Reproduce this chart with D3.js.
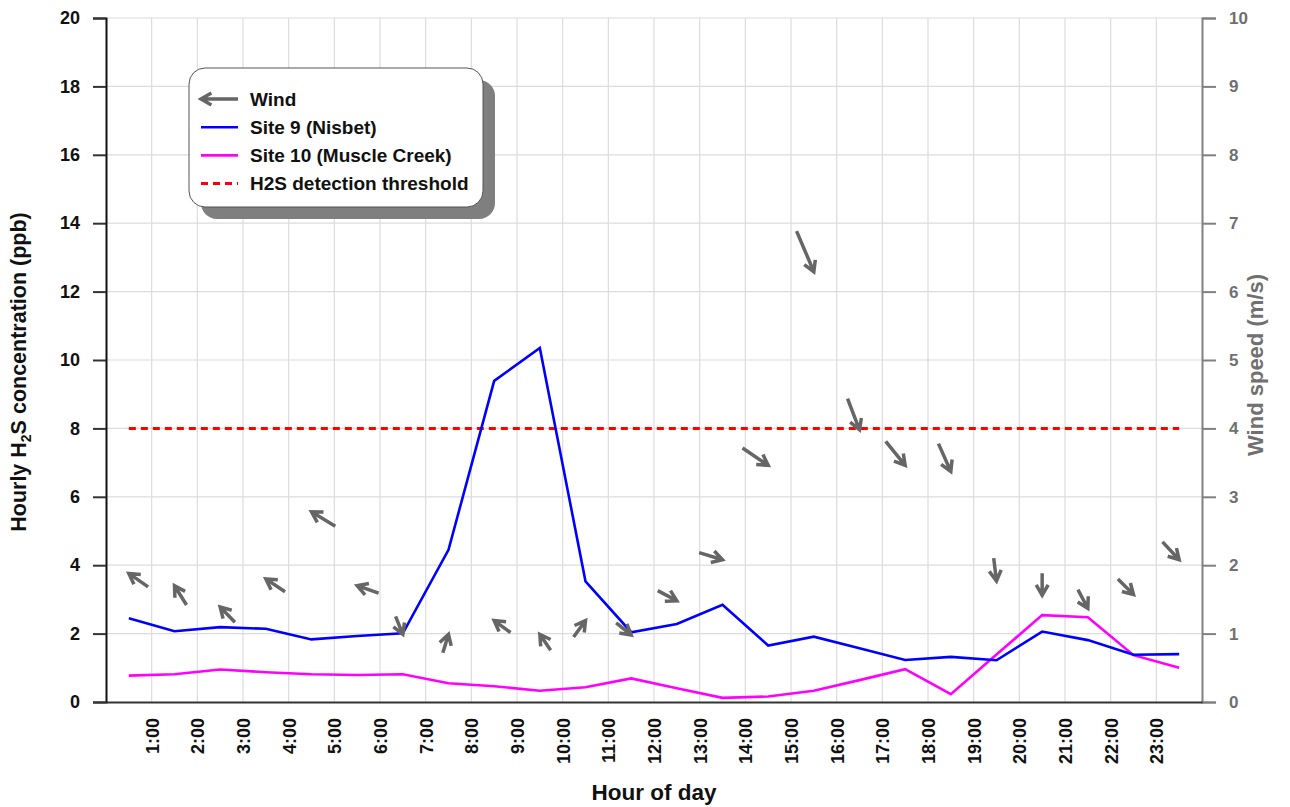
<!DOCTYPE html>
<html>
<head>
<meta charset="utf-8">
<script src="https://cdn.jsdelivr.net/npm/d3@7"></script>
<style>
  html, body { margin: 0; padding: 0; background: #fff; }
  svg { display: block; font-family: "Liberation Sans", Arial, sans-serif; }
</style>
</head>
<body>
<svg id="chart" width="1290" height="807"></svg>
<script>
// Hour of day (mid-hour sample points)
const hours = [0.5,1.5,2.5,3.5,4.5,5.5,6.5,7.5,8.5,9.5,10.5,11.5,12.5,13.5,14.5,15.5,16.5,17.5,18.5,19.5,20.5,21.5,22.5,23.5];
const hourTicks = d3.range(1, 24);
const hourLabels = hourTicks.map(h => h + ":00");

// Hourly H2S concentration (ppb)
const site9 = [2.45,2.07,2.19,2.14,1.83,1.93,2.01,4.45,9.39,10.35,3.53,2.04,2.28,2.84,1.65,1.91,1.57,1.23,1.32,1.22,2.06,1.81,1.38,1.40];
const site10 = [0.77,0.81,0.95,0.87,0.81,0.79,0.81,0.55,0.46,0.33,0.43,0.69,0.40,0.12,0.16,0.33,0.64,0.96,0.23,1.39,2.54,2.48,1.37,1.00];
const threshold = 8;

// Wind speed (m/s) and heading the wind blows toward (degrees clockwise from north)
const windSpeed = [1.88,1.70,1.39,1.80,2.78,1.70,0.99,0.99,1.19,0.99,1.19,0.98,1.48,2.08,3.46,6.29,3.98,3.46,3.37,1.77,1.56,1.37,1.57,2.08];
const windHeading = [305,328,316,304,301,289,158,17,306,326,36,129,118,107,124,157,159,141,156,173,180,152,135,137];

const concTicks = d3.range(0, 21, 2);
const speedTicks = d3.range(0, 11, 1);

const svg = d3.select("#chart");
const m = { left: 106, right: 1202, top: 18, bottom: 702 };

const x = d3.scaleLinear().domain([0, 24]).range([m.left, m.right]);
const y = d3.scaleLinear().domain([0, 20]).range([m.bottom, m.top]);
const yWind = d3.scaleLinear().domain([0, 10]).range([m.bottom, m.top]);
const arrowLen = d3.scaleLinear().domain([0, 10]).range([14.7, 61.6]);

const gridColor = "#dcdcdc";
const windColor = "#666666";
const FONT = "Liberation Sans, Arial, sans-serif";

// Grid
const grid = svg.append("g");
grid.selectAll("line.v").data(hourTicks).join("line")
  .attr("x1", d => x(d)).attr("x2", d => x(d))
  .attr("y1", m.top).attr("y2", m.bottom)
  .attr("stroke", gridColor).attr("stroke-width", 1.2);
grid.selectAll("line.h").data(concTicks.filter(d => d > 0)).join("line")
  .attr("x1", m.left).attr("x2", m.right)
  .attr("y1", d => y(d)).attr("y2", d => y(d))
  .attr("stroke", gridColor).attr("stroke-width", 1.2);

// Left axis
const leftAxis = svg.append("g")
  .attr("transform", `translate(${m.left},0)`)
  .call(d3.axisLeft(y).tickValues(concTicks).tickSize(13).tickPadding(13));
leftAxis.select(".domain").attr("stroke", "#111").attr("stroke-width", 2);
leftAxis.selectAll(".tick line").attr("stroke", "#333").attr("stroke-width", 2);
leftAxis.selectAll(".tick text")
  .attr("font-size", 18).attr("font-weight", "bold").attr("fill", "#111")
  .attr("font-family", FONT);

// Right axis
const rightAxis = svg.append("g")
  .attr("transform", `translate(${m.right},0)`)
  .call(d3.axisRight(yWind).tickValues(speedTicks).tickSize(14).tickPadding(13));
rightAxis.select(".domain").attr("stroke", "#808080").attr("stroke-width", 2);
rightAxis.selectAll(".tick line").attr("stroke", "#808080").attr("stroke-width", 2);
rightAxis.selectAll(".tick text")
  .attr("font-size", 17).attr("font-weight", "bold").attr("fill", "#707070")
  .attr("font-family", FONT);

// Bottom axis
const bottomAxis = svg.append("g")
  .attr("transform", `translate(0,${m.bottom})`)
  .call(d3.axisBottom(x).tickValues(hourTicks).tickFormat((d, i) => hourLabels[i]).tickSize(0).tickPadding(0));
bottomAxis.select(".domain").attr("stroke", "#333").attr("stroke-width", 2);
bottomAxis.selectAll(".tick text")
  .attr("font-size", 18).attr("font-weight", "bold").attr("fill", "#111")
  .attr("font-family", FONT)
  .attr("transform", "rotate(-90)")
  .attr("text-anchor", "end")
  .attr("x", -16).attr("y", 0).attr("dy", "0.36em");

// Axis titles
svg.append("text")
  .attr("transform", `translate(26,${(m.top + m.bottom) / 2 + 12}) rotate(-90)`)
  .attr("text-anchor", "middle").attr("font-size", 21.5).attr("font-weight", "bold").attr("fill", "#111")
  .call(t => {
    t.append("tspan").text("Hourly H");
    t.append("tspan").text("2").attr("font-size", 14).attr("dy", 5);
    t.append("tspan").text("S concentration (ppb)").attr("dy", -5);
  });
svg.append("text")
  .attr("transform", `translate(1263,${(m.top + m.bottom) / 2 + 5}) rotate(-90)`)
  .attr("text-anchor", "middle").attr("font-size", 22).attr("font-weight", "bold").attr("fill", "#707070")
  .text("Wind speed (m/s)");
svg.append("text")
  .attr("x", 654).attr("y", 800)
  .attr("text-anchor", "middle").attr("font-size", 22.5).attr("font-weight", "bold").attr("fill", "#111")
  .text("Hour of day");

// Threshold line
svg.append("line")
  .attr("x1", x(hours[0])).attr("x2", x(hours[hours.length - 1]))
  .attr("y1", y(threshold)).attr("y2", y(threshold))
  .attr("stroke", "#ff0000").attr("stroke-width", 3).attr("stroke-dasharray", "7,5");

// Concentration lines
const line = d3.line().x((d, i) => x(hours[i])).y(d => y(d));
svg.append("path").datum(site10).attr("d", line)
  .attr("fill", "none").attr("stroke", "#ff00ff").attr("stroke-width", 2.6);
svg.append("path").datum(site9).attr("d", line)
  .attr("fill", "none").attr("stroke", "#0000ff").attr("stroke-width", 2.6);

// Wind arrows: tip at (hour, speed), shaft pointing along heading
function arrowPath(tx, ty, headingDeg, len, barb) {
  const a = headingDeg * Math.PI / 180;
  const ux = Math.sin(a), uy = -Math.cos(a);
  const sx = tx - ux * len, sy = ty - uy * len;
  const spread = 30 * Math.PI / 180;
  const back = Math.atan2(-uy, -ux);
  const b1x = tx + barb * Math.cos(back + spread), b1y = ty + barb * Math.sin(back + spread);
  const b2x = tx + barb * Math.cos(back - spread), b2y = ty + barb * Math.sin(back - spread);
  return `M${sx},${sy}L${tx},${ty}M${b1x},${b1y}L${tx},${ty}L${b2x},${b2y}`;
}
const windData = hours.map((h, i) => ({ h, s: windSpeed[i], dir: windHeading[i] }));
svg.append("g").selectAll("path").data(windData).join("path")
  .attr("d", d => arrowPath(x(d.h), yWind(d.s), d.dir, arrowLen(d.s), 12))
  .attr("fill", "none").attr("stroke", windColor).attr("stroke-width", 3.5)
  .attr("stroke-linejoin", "miter").attr("stroke-linecap", "butt");

// Legend
const lg = svg.append("g");
const lx = 189, ly = 68, lw = 294, lh = 139;
lg.append("rect").attr("x", lx + 12).attr("y", ly + 12).attr("width", lw).attr("height", lh)
  .attr("rx", 16).attr("fill", "#7f7f7f");
lg.append("rect").attr("x", lx).attr("y", ly).attr("width", lw).attr("height", lh)
  .attr("rx", 16).attr("fill", "#fff").attr("stroke", "#555").attr("stroke-width", 1);

const legendItems = [
  { label: "Wind", type: "arrow" },
  { label: "Site 9 (Nisbet)", color: "#0000ff" },
  { label: "Site 10 (Muscle Creek)", color: "#ff00ff" },
  { label: "H2S detection threshold", color: "#ff0000", dash: "7,5" }
];
legendItems.forEach((it, i) => {
  const cy = 99 + i * 28.2;
  if (it.type === "arrow") {
    lg.append("path").attr("d", arrowPath(201, cy, 270, 37, 12))
      .attr("fill", "none").attr("stroke", windColor).attr("stroke-width", 3.5);
  } else {
    lg.append("line").attr("x1", 201).attr("x2", 238).attr("y1", cy).attr("y2", cy)
      .attr("stroke", it.color).attr("stroke-width", it.dash ? 3 : 2.6)
      .attr("stroke-dasharray", it.dash || null);
  }
  lg.append("text").attr("x", 250).attr("y", cy + 6.5)
    .attr("font-size", 19).attr("font-weight", "bold").attr("fill", "#111")
    .text(it.label);
});
</script>
</body>
</html>
